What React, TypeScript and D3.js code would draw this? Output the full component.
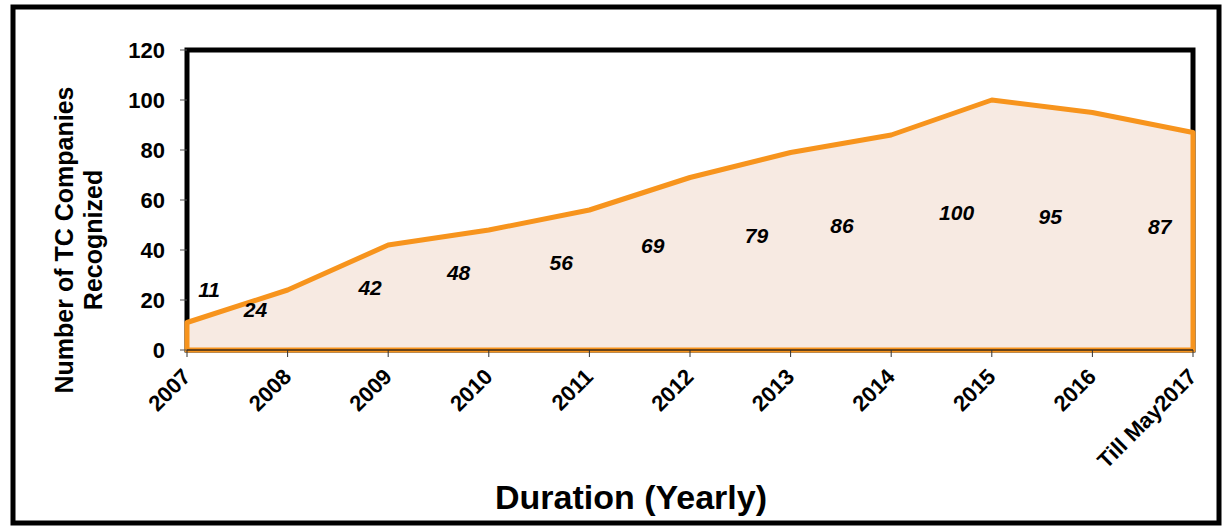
import React from 'react';
import * as d3 from 'd3';

const categories = ['2007', '2008', '2009', '2010', '2011', '2012', '2013', '2014', '2015', '2016', 'Till May2017'];
const companies = [11, 24, 42, 48, 56, 69, 79, 86, 100, 95, 87];
const yTicks = [0, 20, 40, 60, 80, 100, 120];

// where the value labels sit (fraction of a step from the point, and height in value units)
const labelShift = [0.22, -0.32, -0.18, -0.3, -0.28, -0.37, -0.34, -0.49, -0.35, -0.42, -0.33];
const labelLevel = [21.2, 13.2, 22, 28, 32, 38.8, 42.8, 46.8, 52, 50.4, 46.4];

const W = 1225;
const H = 529;
const font = '"Liberation Sans", Arial, sans-serif';

export default function App() {
    const x = d3.scalePoint<string>().domain(categories).range([187, 1193]);
    const y = d3.scaleLinear().domain([0, 120]).range([350, 50]);
    const step = x.step();

    const pts = categories.map((c, i) => ({ c, v: companies[i] }));

    const area = d3.area<{ c: string; v: number }>()
        .x((d) => x(d.c)!)
        .y0(y(0))
        .y1((d) => y(d.v));

    const [x0, x1] = x.range();
    const [yb, yt] = y.range();

    return (
        <svg width={W} height={H} style={{ position: 'absolute', left: 0, top: 0, fontFamily: font }}>
            <rect x={0} y={0} width={W} height={H} fill="#fff" />
            <rect x={13} y={7} width={1206} height={516} fill="none" stroke="#000" strokeWidth={5} />

            {/* plot frame */}
            <rect x={x0} y={yt} width={x1 - x0} height={yb - yt} fill="#fff" stroke="#000" strokeWidth={5} />

            {/* area */}
            <path d={area(pts)! + 'Z'} fill="#F7EAE2" stroke="#F7941D" strokeWidth={5} strokeLinejoin="round" />
            <line x1={x0} x2={x1} y1={yb} y2={yb} stroke="#3a2a1a" strokeWidth={1.5} />

            {/* y axis */}
            {yTicks.map((t) => (
                <g key={t}>
                    <line x1={x0 - 7} x2={x0} y1={y(t)} y2={y(t)} stroke="#555" strokeWidth={1} />
                    <text x={165} y={y(t)} dy="0.35em" textAnchor="end" fontSize={22} fontWeight="bold" fill="#000">
                        {t}
                    </text>
                </g>
            ))}

            {/* x axis */}
            {categories.map((c) => (
                <g key={c}>
                    <line x1={x(c)} x2={x(c)} y1={yb} y2={yb + 7} stroke="#333" strokeWidth={1} />
                    <text
                        transform={`translate(${x(c)! + 5},${yb + 28}) rotate(-45)`}
                        textAnchor="end"
                        fontSize={22}
                        fontWeight="bold"
                        fill="#000"
                    >
                        {c}
                    </text>
                </g>
            ))}

            {/* value labels */}
            {pts.map((d, i) => (
                <text
                    key={d.c}
                    x={x(d.c)! + labelShift[i] * step}
                    y={y(labelLevel[i])}
                    textAnchor="middle"
                    fontSize={21}
                    fontWeight="bold"
                    fontStyle="italic"
                    fill="#000"
                >
                    {d.v}
                </text>
            ))}

            {/* axis titles */}
            <text
                transform="translate(73,240) rotate(-90)"
                textAnchor="middle"
                fontSize={25}
                fontWeight="bold"
                fill="#000"
            >
                <tspan x={0} dy={0}>Number of TC Companies</tspan>
                <tspan x={0} dy={29}>Recognized</tspan>
            </text>
            <text x={631} y={509} textAnchor="middle" fontSize={34} fontWeight="bold" fill="#000">
                Duration (Yearly)
            </text>
        </svg>
    );
}
